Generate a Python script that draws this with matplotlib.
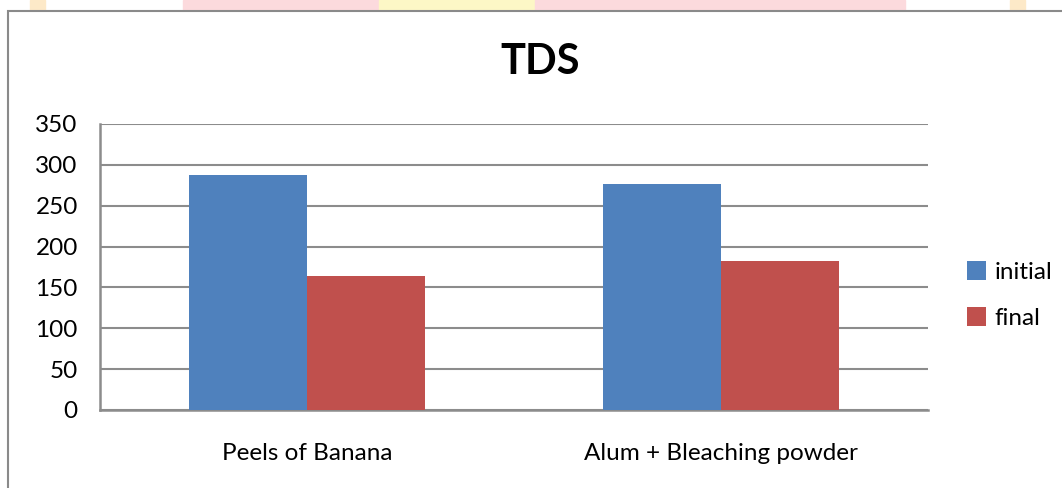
import numpy as np
import matplotlib.pyplot as plt
from matplotlib.patches import Rectangle

# data
categories = ['Peels of Banana', 'Alum + Bleaching powder']
initial = [288, 277]
final = [164, 182]
series_names = ['initial', 'final']
yticks = [0, 50, 100, 150, 200, 250, 300, 350]

plt.rcParams['font.family'] = ['Lato', 'DejaVu Sans']

W, H = 1062, 488
fig = plt.figure(figsize=(W / 100, H / 100), dpi=100)

# faint page background above the chart box
for x0, x1, col in [(30, 45, '#fde9c8'), (183, 379, '#fcdadd'), (379, 535, '#fdf7c6'),
                    (535, 905, '#fcdadd'), (1010, 1025, '#fde9c8')]:
    fig.patches.append(Rectangle((x0 / W, 1 - 11 / H), (x1 - x0) / W, 11 / H,
                                 transform=fig.transFigure, color=col, zorder=0))

# chart border
fig.patches.append(Rectangle((8 / W, -0.05), 1.1, 1 - 11 / H + 0.05,
                             transform=fig.transFigure, facecolor='white',
                             edgecolor='#8a8a8a', lw=1.5, zorder=1))

ax = fig.add_axes([100 / W, 1 - 410 / H, (928 - 100) / W, (410 - 124) / H])
ax.set_zorder(5)
ax.set_facecolor('none')

x = np.arange(len(categories))
w = 1 / 3.5
ax.bar(x - w / 2, initial, w, color='#4F81BD', label=series_names[0], zorder=3)
ax.bar(x + w / 2, final, w, color='#C0504D', label=series_names[1], zorder=3)

ax.set_xlim(-0.5, len(categories) - 0.5)
ax.set_ylim(0, 350)
ax.set_yticks(yticks)
ax.set_xticks(x)
ax.set_xticklabels(categories)
ax.tick_params(axis='both', length=0, labelsize=17.5)
ax.tick_params(axis='x', pad=24)
ax.tick_params(axis='y', pad=16)
ax.grid(axis='y', color='#8c8c8c', lw=1.5, zorder=0)

for s in ['top', 'right']:
    ax.spines[s].set_visible(False)
for s in ['left', 'bottom']:
    ax.spines[s].set_color('#8c8c8c')
    ax.spines[s].set_linewidth(1.8)

fig.text(540 / W, 1 - 62 / H, 'TDS', fontsize=30, fontweight='bold',
         ha='center', va='center', zorder=5)

ax.legend(loc='center left', bbox_to_anchor=(957 / W, 1 - 295 / H),
          bbox_transform=fig.transFigure, frameon=False, fontsize=17.5,
          handlelength=0.8, handleheight=0.8, handletextpad=0.35,
          labelspacing=1.0, borderaxespad=0)

fig.savefig('out.png', dpi=100)
